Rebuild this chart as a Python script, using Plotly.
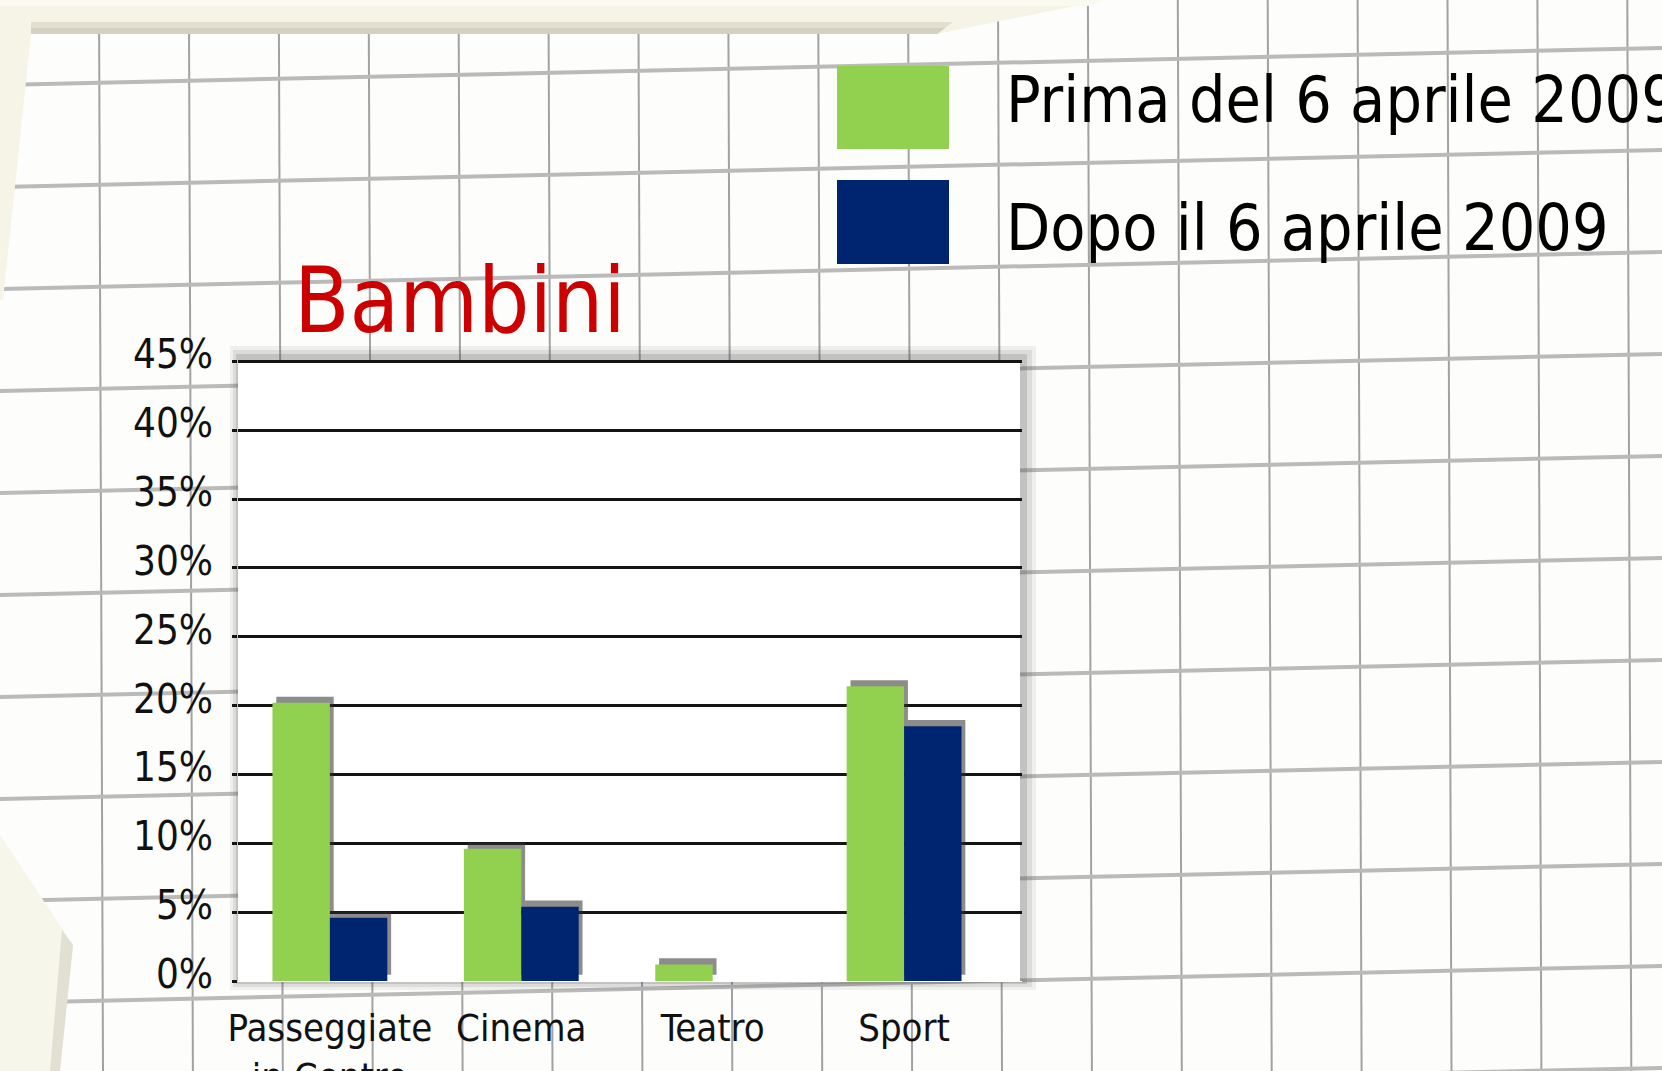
import plotly.graph_objects as go

# ---------------- data ----------------
categories = ["Passeggiate<br>in Centro", "Cinema", "Teatro", "Sport"]
prima = [20.2, 9.6, 1.2, 21.4]      # Prima del 6 aprile 2009
dopo = [4.6, 5.4, 0.0, 18.5]        # Dopo il 6 aprile 2009
series_names = ["Prima del 6 aprile 2009", "Dopo il 6 aprile 2009"]
y_ticks = [0, 5, 10, 15, 20, 25, 30, 35, 40, 45]
y_tick_labels = ["0%", "5%", "10%", "15%", "20%", "25%", "30%", "35%", "40%", "45%"]
title_text = "Bambini"

# ---------------- geometry / style ----------------
W, H = 1662, 1071
L, R, T, B = 238, W - 1022, 360, H - 981
PW, PH = W - L - R, H - T - B

GREEN = "#92D050"
NAVY = "#002570"
FONT = "DejaVu Sans Condensed, Liberation Sans Narrow, sans-serif"


def px(x):
    return (x - L) / PW


def py(y):
    return (H - B - y) / PH


shapes = []
# graph paper: vertical lines
xv = 99.0
while xv < W:
    shapes.append(dict(type="line", xref="paper", yref="paper", layer="below",
                       x0=px(xv), x1=px(xv + 4), y0=py(0), y1=py(H),
                       line=dict(color="#a2a2a2", width=2)))
    xv += 89.9
# graph paper: horizontal (slightly tilted) lines
for k in range(0, 11):
    yl = 85 + 102 * k
    shapes.append(dict(type="line", xref="paper", yref="paper", layer="below",
                       x0=px(0), x1=px(W), y0=py(yl), y1=py(yl - 37),
                       line=dict(color="#bababa", width=4)))


def poly(points, fill):
    d = "M " + " L ".join(f"{px(a):.5f},{py(b):.5f}" for a, b in points) + " Z"
    return dict(type="path", xref="paper", yref="paper", layer="below", path=d,
                fillcolor=fill, line=dict(width=0))


# cream torn-paper edges
shapes.append(poly([(0, 0), (1105, 0), (937, 34), (31, 34), (3, 300), (0, 300)], "#f6f4e6"))
shapes.append(poly([(0, 0), (1105, 0), (1090, 6), (0, 6)], "#fbfaf0"))
shapes.append(poly([(31, 22), (953, 22), (937, 34), (31, 34)], "#e2dfd0"))
shapes.append(poly([(31, 28), (945, 28), (937, 34), (31, 34)], "#d4d1c2"))
shapes.append(poly([(0, 835), (73, 945), (60, 1071), (0, 1071)], "#f7f6ea"))
shapes.append(poly([(62, 930), (73, 945), (60, 1071), (50, 1071)], "#e2e0d2"))

# chart card with soft drop shadow
shapes.append(poly([(230, 346), (1036, 346), (1036, 990), (230, 990)], "rgba(80,80,80,0.08)"))
shapes.append(poly([(233, 350), (1032, 350), (1032, 987), (233, 987)], "rgba(80,80,80,0.12)"))
shapes.append(poly([(236, 354), (1027, 354), (1027, 984), (236, 984)], "rgba(80,80,80,0.18)"))
shapes.append(poly([(238, 360), (1020, 360), (1020, 981), (238, 981)], "#ffffff"))

# legend swatches
shapes.append(poly([(837, 66), (949, 66), (949, 149), (837, 149)], GREEN))
shapes.append(poly([(837, 180), (949, 180), (949, 264), (837, 264)], NAVY))

annotations = [
    dict(text=series_names[0], xref="paper", yref="paper", x=px(1004), y=py(100),
         xanchor="left", yanchor="middle", showarrow=False,
         font=dict(family=FONT, size=64, color="#000000")),
    dict(text=series_names[1], xref="paper", yref="paper", x=px(1004), y=py(228),
         xanchor="left", yanchor="middle", showarrow=False,
         font=dict(family=FONT, size=64, color="#000000")),
    dict(text=title_text, xref="paper", yref="paper", x=px(292), y=py(300),
         xanchor="left", yanchor="middle", showarrow=False,
         font=dict(family=FONT, size=90, color="#CC0000")),
]

fig = go.Figure()
BW = 0.3
SH_DX, SH_DY = 0.02, 0.45
SHADOW = "rgba(45,45,45,0.55)"
# soft shadows behind bars
fig.add_trace(go.Bar(x=categories, y=prima, base=SH_DY, width=BW, offset=-BW + SH_DX,
                     marker=dict(color=SHADOW, line=dict(width=0)),
                     hoverinfo="skip", showlegend=False))
fig.add_trace(go.Bar(x=categories, y=dopo, base=SH_DY, width=BW, offset=SH_DX,
                     marker=dict(color=SHADOW, line=dict(width=0)),
                     hoverinfo="skip", showlegend=False))
fig.add_trace(go.Bar(x=categories, y=prima, name=series_names[0], width=BW, offset=-BW,
                     marker=dict(color=GREEN, line=dict(width=0))))
fig.add_trace(go.Bar(x=categories, y=dopo, name=series_names[1], width=BW, offset=0,
                     marker=dict(color=NAVY, line=dict(width=0))))

fig.update_layout(
    width=W, height=H,
    margin=dict(l=L, r=R, t=T, b=B, pad=0, autoexpand=False),
    paper_bgcolor="#fdfdfb",
    plot_bgcolor="rgba(0,0,0,0)",
    barmode="overlay",
    showlegend=False,
    shapes=shapes,
    annotations=annotations,
    font=dict(family=FONT, color="#111111"),
    xaxis=dict(type="category", range=[-0.48, 3.616], showgrid=False, zeroline=False,
               showline=False, ticks="", tickangle=0, automargin=False,
               tickfont=dict(family=FONT, size=38, color="#111111"),
               ticklabelstandoff=21),
    yaxis=dict(range=[0, 45.1], tickmode="array", tickvals=y_ticks, ticktext=y_tick_labels,
               showgrid=True, gridcolor="#141414", gridwidth=3, automargin=False,
               zeroline=True, zerolinecolor="#ffffff", zerolinewidth=1,
               showline=False, ticks="outside", ticklen=5, tickwidth=3, tickcolor="#141414",
               tickfont=dict(family=FONT, size=40, color="#111111"),
               ticklabelstandoff=11, ticklabelshift=-7),
)

fig.write_html("out.html", include_plotlyjs=True, full_html=True,
               config={"displayModeBar": False},
               post_script="document.body.style.margin='0';document.body.style.overflow='hidden';")
